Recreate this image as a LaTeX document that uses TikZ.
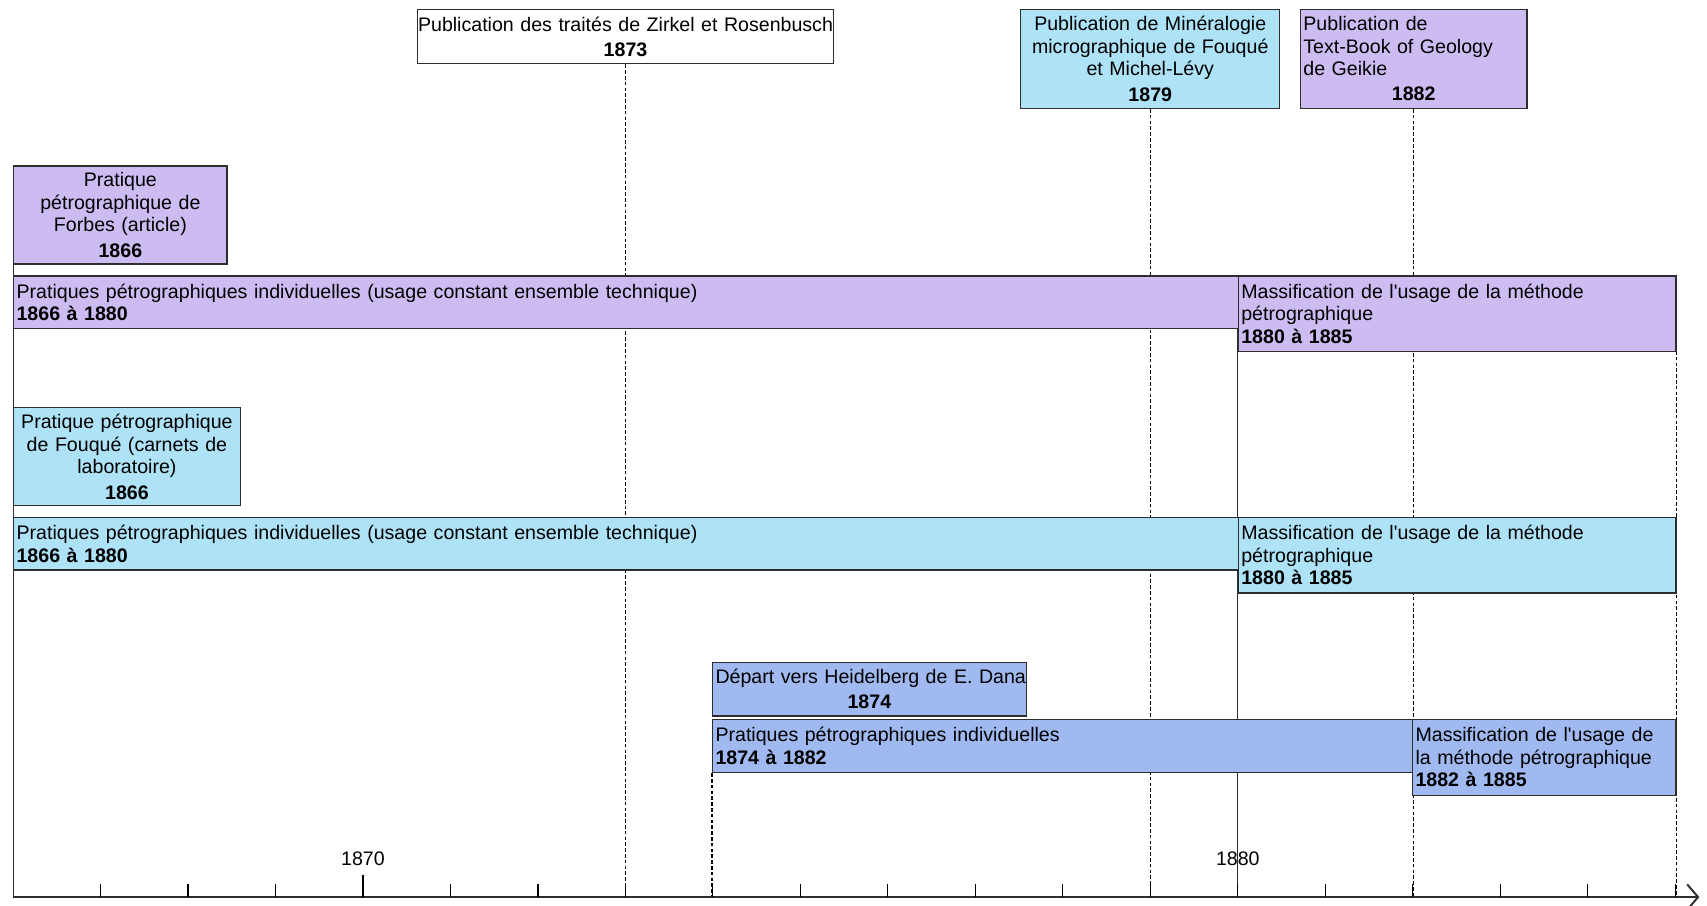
\documentclass[tikz,border=0pt]{standalone}
\usepackage{fontspec}
\setmainfont{Liberation Sans}
\usetikzlibrary{arrows.meta}
\definecolor{lav}{RGB}{205,188,242}
\definecolor{sky}{RGB}{174,226,246}
\definecolor{peri}{RGB}{160,185,240}
\definecolor{edge}{RGB}{45,45,45}
\newcommand{\apos}{\textquotesingle}
\pgfdeclarelayer{bg}
\pgfsetlayers{bg,main}
\begin{document}
\begin{tikzpicture}[x=0.6pt,y=-0.6pt,
  every node/.style={font=\fontsize{10.8pt}{12.4pt}\selectfont, text=black},
  frame/.style={draw=edge, line width=0.7pt, anchor=north west, inner xsep=1.6pt, inner ysep=0pt},
  vsolid/.style={draw=edge, line width=0.6pt},
  vdash/.style={draw=black, line width=0.6pt, dash pattern=on 2pt off 1.2pt},
  tickmark/.style={draw=black, line width=0.6pt},
  axisline/.style={draw=edge, line width=1.2pt},
  yearlabel/.style={inner sep=0pt}]
\useasboundingbox (0,0) rectangle (1568,832);

% top events
\node[frame, inner xsep=0pt, fill=white, minimum width=229.2pt, minimum height=30pt, text width=229.2pt, align=center] (zirkel) at (383,8)
  {\mbox{Publication des traités de Zirkel et Rosenbusch}\\[1.5pt]\textbf{1873}};
\node[frame, fill=sky, minimum width=142.8pt, minimum height=54.6pt, text width=139.6pt, align=center] (fmpub) at (937,8)
  {Publication de Minéralogie\\micrographique de Fouqué\\et Michel-Lévy\\[1.5pt]\textbf{1879}};
\node[frame, fill=lav, minimum width=124.8pt, minimum height=54.6pt, text width=121.6pt, align=left] (geikie) at (1194,8)
  {Publication de\\Text-Book of Geology\\de Geikie\par\vspace{1.5pt}{\centering\bfseries 1882\par}};

% purple row
\node[frame, fill=lav, minimum width=117.6pt, minimum height=54pt, text width=114.4pt, align=center] (forbes) at (12,152)
  {Pratique\\pétrographique de\\Forbes (article)\\[1.5pt]\textbf{1866}};
\node[frame, fill=lav, minimum width=675pt, minimum height=28.8pt, text width=671.8pt, align=left] (p1) at (12,253)
  {Pratiques pétrographiques individuelles (usage constant ensemble technique)\\\textbf{1866 à 1880}};
\node[frame, fill=lav, minimum width=241.2pt, minimum height=41.4pt, text width=238pt, align=left] (p2) at (1137,253)
  {Massification de l\apos usage de la méthode\\pétrographique\\\textbf{1880 à 1885}};

% blue row
\node[frame, fill=sky, minimum width=124.8pt, minimum height=54pt, text width=121.6pt, align=center] (carnets) at (12,374)
  {Pratique pétrographique\\de Fouqué (carnets de\\laboratoire)\\[1.5pt]\textbf{1866}};
\node[frame, fill=sky, minimum width=675pt, minimum height=28.8pt, text width=671.8pt, align=left] (b1) at (12,475)
  {Pratiques pétrographiques individuelles (usage constant ensemble technique)\\\textbf{1866 à 1880}};
\node[frame, fill=sky, minimum width=241.2pt, minimum height=41.4pt, text width=238pt, align=left] (b2) at (1137,475)
  {Massification de l\apos usage de la méthode\\pétrographique\\\textbf{1880 à 1885}};

% periwinkle row
\node[frame, fill=peri, minimum width=172.8pt, minimum height=29.4pt, text width=169.6pt, align=left] (dana) at (654,608)
  {\mbox{Départ vers Heidelberg de E. Dana}\par\vspace{1.5pt}{\centering\bfseries 1874\par}};
\node[frame, fill=peri, minimum width=385.8pt, minimum height=29.4pt, text width=382.6pt, align=left] (r1) at (654,660)
  {Pratiques pétrographiques individuelles\\\textbf{1874 à 1882}};
\node[frame, fill=peri, minimum width=145.2pt, minimum height=42pt, text width=142pt, align=left] (r2) at (1297,660)
  {Massification de l\apos usage de\\la méthode pétrographique\\\textbf{1882 à 1885}};

% axis
\coordinate (ax0) at (12,824);
\coordinate (ax1) at (1561,824);
\draw[axisline, -{Straight Barb[length=6pt,width=14pt,line width=1.1pt]}] (ax0) -- (ax1);
\foreach \i in {1,2,3,5,6,7,8,9,10,11,12,13,14,15,16,17,18,19} {
  \draw[tickmark] ({12+\i*80.357},824) -- ++(0,-12);
}
\draw[tickmark] ({12+4*80.357},824) -- ++(0,-20);
\node[yearlabel] (l1870) at ({12+4*80.357},789) {1870};
\node[yearlabel] (l1880) at ({12+14*80.357},789) {1880};

\begin{pgfonlayer}{bg}
  \draw[vsolid] (forbes.south west) -- (forbes.south west |- ax0);
  \draw[vdash] (zirkel.south) -- (zirkel.south |- ax0);
  \draw[vdash] (fmpub.south) -- (fmpub.south |- ax0);
  \draw[vdash] (geikie.south) -- (geikie.south |- ax0);
  \draw[vsolid] (p2.north west) -- (p2.north west |- ax0);
  \draw[vdash] (p2.north east) -- (p2.north east |- ax0);
  \draw[vdash] (r1.south west) -- (r1.south west |- ax0);
\end{pgfonlayer}
\end{tikzpicture}
\end{document}
